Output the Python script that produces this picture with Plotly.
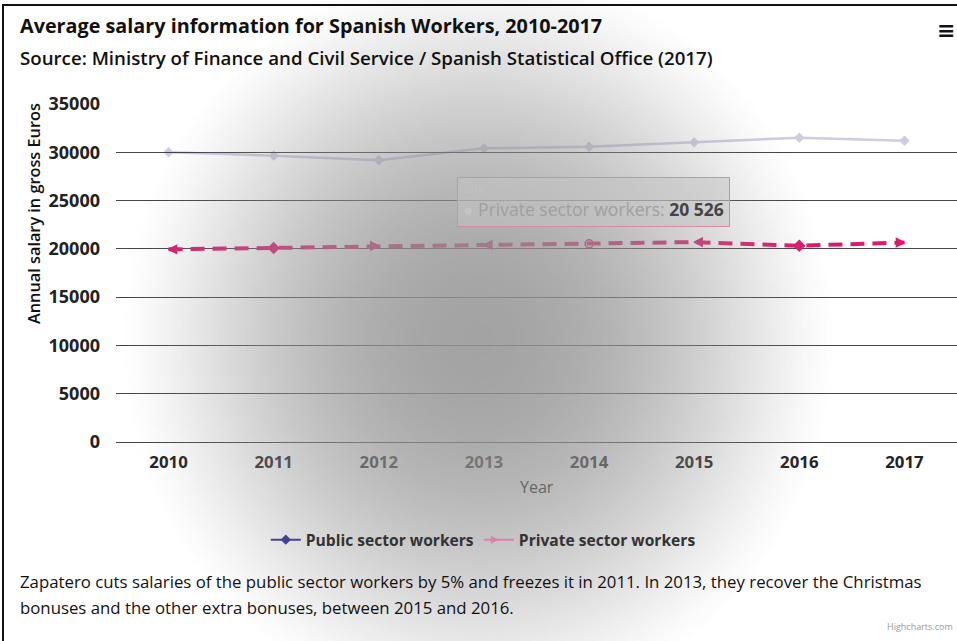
import base64
import struct
import zlib

import numpy as np
import plotly.graph_objects as go

# ---------------- data ----------------
years = ["2010", "2011", "2012", "2013", "2014", "2015", "2016", "2017"]
public_sector = [30000, 29650, 29170, 30410, 30580, 31030, 31510, 31200]
private_sector = [19950, 20100, 20300, 20400, 20526, 20700, 20330, 20650]
y_ticks = [0, 5000, 10000, 15000, 20000, 25000, 30000, 35000]
private_symbols = ["arrow-left", "diamond", "arrow-right", "arrow-left",
                   "circle-open", "arrow-left", "diamond", "arrow-right"]

# ---------------- geometry helpers (figure pixels -> paper) ----------------
FW, FH = 957, 641
L, R_, T, B = 116, 0, 104, 199
PW, PH = FW - L - R_, FH - T - B


def px(x):
    return (x - L) / PW


def py(y):
    return (FH - B - y) / PH


# ---------------- radial grey overlay (decoration) ----------------
W, H = 320, 214
xs = (np.arange(W) + 0.5) * FW / W
ys = (np.arange(H) + 0.5) * FH / H
X, Y = np.meshgrid(xs, ys)
d = np.hypot((X - 478) / 360.0, (Y - 340) / 380.0)
alpha = np.clip(1 - d ** 2, 0, 1) ** 1.4 * 0.86
img = np.zeros((H, W, 4), dtype=np.uint8)
img[..., :3] = 148
img[..., 3] = np.round(alpha * 255).astype(np.uint8)
raw = b"".join(b"\x00" + img[r].tobytes() for r in range(H))


def chunk(tag, data):
    return (struct.pack(">I", len(data)) + tag + data
            + struct.pack(">I", zlib.crc32(tag + data) & 0xFFFFFFFF))


png = (b"\x89PNG\r\n\x1a\n"
       + chunk(b"IHDR", struct.pack(">IIBBBBB", W, H, 8, 6, 0, 0, 0))
       + chunk(b"IDAT", zlib.compress(raw, 9))
       + chunk(b"IEND", b""))
overlay_src = "data:image/png;base64," + base64.b64encode(png).decode()

# ---------------- figure ----------------
PUB = "#3b3b8f"
PRIV = "#e0176d"
FONT = "Open Sans"

fig = go.Figure()

fig.add_trace(go.Scatter(
    x=years, y=public_sector, mode="lines+markers", name="Public sector workers",
    line=dict(color=PUB, width=2.5), marker=dict(symbol="diamond", size=8, color=PUB),
    opacity=0.25, showlegend=False, hoverinfo="skip"))

fig.add_trace(go.Scatter(
    x=years, y=private_sector, mode="lines+markers", name="Private sector workers",
    line=dict(color=PRIV, width=4, dash="14px,8px"),
    marker=dict(symbol=private_symbols, size=8, color=PRIV,
                line=dict(color=PRIV, width=1.5)),
    showlegend=False, hoverinfo="skip"))

# legend entries
fig.add_trace(go.Scatter(
    x=[None], y=[None], mode="lines+markers", name="Public sector workers",
    line=dict(color="#434393", width=2), marker=dict(symbol="diamond", size=8, color="#434393")))
fig.add_trace(go.Scatter(
    x=[None], y=[None], mode="lines+markers", name="Private sector workers",
    line=dict(color="#e07fa8", width=2), marker=dict(symbol="arrow-right", size=8, color="#e07fa8")))

annotations = [
    dict(x=px(18), y=py(25), text="<b>Average salary information for Spanish Workers, 2010-2017</b>",
         font=dict(family=FONT, size=19.8, color="#111"), xanchor="left", yanchor="middle"),
    dict(x=px(18), y=py(57), text="Source: Ministry of Finance and Civil Service / Spanish Statistical Office (2017)",
         font=dict(family=FONT, size=18.7, color="#111", weight=600), xanchor="left", yanchor="middle"),
    dict(x=px(946), y=py(30), text="<b>≡</b>", font=dict(family="DejaVu Sans", size=22, color="#111"),
         xanchor="center", yanchor="middle"),
    dict(x=px(34), y=py(214), text="Annual salary in gross Euros", textangle=-90,
         font=dict(family=FONT, size=16.3, color="#111", weight=600), xanchor="center", yanchor="middle"),
    dict(x=px(537), y=py(487), text="Year", font=dict(family=FONT, size=16, color="#666"),
         xanchor="center", yanchor="middle"),
    dict(x=px(18), y=py(581),
         text="Zapatero cuts salaries of the public sector workers by 5% and freezes it in 2011. In 2013, they recover the Christmas",
         font=dict(family=FONT, size=16.8, color="#111"), xanchor="left", yanchor="middle"),
    dict(x=px(18), y=py(607), text="bonuses and the other extra bonuses, between 2015 and 2016.",
         font=dict(family=FONT, size=16.8, color="#111"), xanchor="left", yanchor="middle"),
    dict(x=px(955), y=py(626), text="Highcharts.com", font=dict(family=FONT, size=9, color="#999"),
         xanchor="right", yanchor="middle"),
    dict(x=px(457), y=py(202),
         text=("<span style='font-size:9px;color:#c4c4c4'>2014</span><br>"
               "<span style='color:#c4c4c4'>●</span> Private sector workers: "
               "<b><span style='color:#444'>20 526</span></b>"),
         font=dict(family=FONT, size=17.5, color="#a0a0a0"), xanchor="left", yanchor="middle",
         align="left", bgcolor="rgba(195,195,195,0.55)", bordercolor="#d98aa8", borderwidth=1,
         borderpad=5),
]
for a in annotations:
    a.update(xref="paper", yref="paper", showarrow=False)

fig.update_layout(
    width=FW, height=FH,
    margin=dict(l=L, r=R_, t=T, b=B),
    paper_bgcolor="white", plot_bgcolor="white",
    font=dict(family=FONT, color="#333"),
    annotations=annotations,
    shapes=[dict(type="rect", xref="paper", yref="paper", x0=px(3), x1=px(962),
                 y0=py(646), y1=py(5), line=dict(color="#111", width=2), layer="above")],
    images=[dict(source=overlay_src, xref="paper", yref="paper", x=px(0), y=py(0),
                 sizex=FW / PW, sizey=FH / PH, xanchor="left", yanchor="top",
                 sizing="stretch", layer="above")],
    legend=dict(orientation="h", xref="container", yref="container", x=0.505, y=1 - 540 / FH,
                xanchor="center", yanchor="middle", itemwidth=30,
                font=dict(family=FONT, size=15.6, color="#333", weight="bold"),
                bgcolor="rgba(0,0,0,0)"),
    hovermode=False,
)

fig.update_xaxes(
    type="category", range=[-0.5, 7.5], showgrid=False, showline=True, linecolor="#444",
    linewidth=1, ticks="", tickfont=dict(family=FONT, size=16.8, color="#222", weight="bold"),
    ticklabelstandoff=5, zeroline=False, fixedrange=True)
fig.update_yaxes(
    range=[0, 35000], tickvals=y_ticks, ticktext=[str(v) for v in y_ticks],
    showgrid=True, gridcolor="#444", gridwidth=1, zeroline=False, showline=False, ticks="",
    tickfont=dict(family=FONT, size=18, color="#222", weight="bold"),
    ticklabelstandoff=15, fixedrange=True)

fig.write_html("out.html")
